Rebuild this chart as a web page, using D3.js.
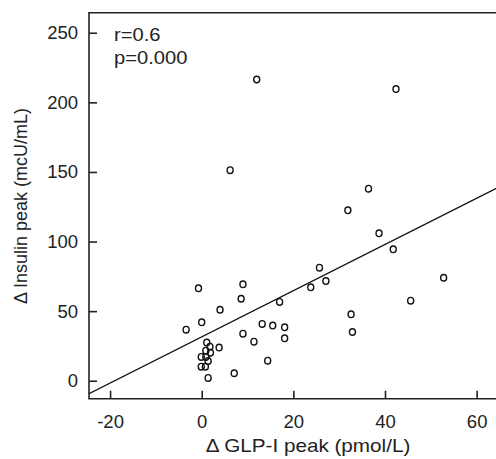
<!DOCTYPE html>
<html>
<head>
<meta charset="utf-8">
<script src="https://cdn.jsdelivr.net/npm/d3@7"></script>
<style>
  body { margin: 0; background: #fff; }
  text { font-family: "Liberation Sans", Arial, sans-serif; fill: #222; }
</style>
</head>
<body>
<svg></svg>
<script>
var width = 496,
    height = 459;

// Δ GLP-I peak (pmol/L)
var glpPeak = [12.0, 42.4, 6.2, 36.4, 31.9, 38.7, 41.8, 25.7, 27.1, 23.8,
    52.8, 45.6, 32.6, 32.9, -0.7, 9.0, 8.6, 4.0, 17.0, -3.4,
    0.0, 9.0, 13.2, 15.5, 18.1, 18.1, 11.4, 3.8, 14.4, 7.1,
    1.1, 1.8, 0.9, 1.9, -0.1, 0.9, 1.4, -0.1, 0.8, 1.4];
// Δ Insulin peak (mcU/mL)
var insulinPeak = [216.4, 209.5, 151.3, 138.0, 122.4, 105.9, 94.4, 81.2, 71.6, 67.1,
    74.0, 57.5, 47.7, 35.0, 66.4, 69.3, 58.9, 51.0, 56.6, 36.7,
    42.0, 33.8, 40.8, 39.6, 38.4, 30.5, 28.1, 23.8, 14.4, 5.4,
    27.4, 24.5, 21.6, 20.2, 17.1, 17.1, 14.2, 10.1, 10.1, 2.0];

var xTicks = [-20, 0, 20, 40, 60],
    yTicks = [0, 50, 100, 150, 200, 250];

// fitted line: intercept, slope
var fit = [31.5, 1.66];
var stats = ["r=0.6", "p=0.000"];

var frame = { left: 89, top: 12.7, right: 500, bottom: 398.7 };

var x = d3.scaleLinear()
    .domain([-24.6, 65.1])
    .range([frame.left, frame.right]);

var y = d3.scaleLinear()
    .domain([-12.9, 264.4])
    .range([frame.bottom, frame.top]);

var svg = d3.select("svg")
    .attr("width", width)
    .attr("height", height);

svg.append("defs").append("clipPath")
    .attr("id", "plot")
    .append("rect")
    .attr("x", frame.left)
    .attr("y", frame.top)
    .attr("width", frame.right - frame.left)
    .attr("height", frame.bottom - frame.top);

// axes, ticks inside the frame, plain hyphen for negatives
var xAxis = svg.append("g")
    .attr("transform", "translate(0," + frame.bottom + ")")
    .call(d3.axisBottom(x).tickValues(xTicks).tickFormat(d => String(d))
        .tickSizeInner(-8).tickSizeOuter(0).tickPadding(16));

var yAxis = svg.append("g")
    .attr("transform", "translate(" + frame.left + ",0)")
    .call(d3.axisLeft(y).tickValues(yTicks).tickFormat(d => String(d))
        .tickSizeInner(-8).tickSizeOuter(0).tickPadding(11));

[xAxis, yAxis].forEach(a => {
    a.select(".domain").remove();
    a.selectAll(".tick line").attr("stroke", "#222").attr("stroke-width", 1.6);
    a.selectAll(".tick text")
        .attr("font-size", 18.5)
        .attr("font-family", "Liberation Sans, Arial, sans-serif")
        .attr("fill", "#222");
});

// frame (left, top, bottom)
svg.append("path")
    .attr("d", "M" + frame.right + "," + frame.top + "H" + frame.left + "V" + frame.bottom + "H" + frame.right)
    .attr("fill", "none")
    .attr("stroke", "#222")
    .attr("stroke-width", 1.6);

// regression line
var line = d3.line()
    .x(d => x(d))
    .y(d => y(fit[0] + fit[1] * d));

svg.append("path")
    .datum(x.domain())
    .attr("clip-path", "url(#plot)")
    .attr("d", line)
    .attr("fill", "none")
    .attr("stroke", "#111")
    .attr("stroke-width", 1.4);

// points
svg.append("g")
    .selectAll("ellipse")
    .data(glpPeak.map((d, i) => [d, insulinPeak[i]]))
    .enter().append("ellipse")
    .attr("cx", d => x(d[0]))
    .attr("cy", d => y(d[1]))
    .attr("rx", 3)
    .attr("ry", 3.3)
    .attr("fill", "none")
    .attr("stroke", "#111")
    .attr("stroke-width", 1.4);

// stats (text in the original is slightly wide)
svg.append("g")
    .selectAll("text")
    .data(stats)
    .enter().append("text")
    .attr("transform", (d, i) => "translate(114," + (41 + i * 23) + ") scale(1.12,1)")
    .attr("font-size", 18)
    .text(d => d);

// axis titles
svg.append("text")
    .attr("transform", "translate(308,452) scale(1.15,1)")
    .attr("text-anchor", "middle")
    .attr("font-size", 18)
    .text("\u0394 GLP-I peak (pmol/L)");

svg.append("text")
    .attr("transform", "translate(27,206) rotate(-90)")
    .attr("text-anchor", "middle")
    .attr("font-size", 18)
    .text("\u0394 Insulin peak (mcU/mL)");
</script>
</body>
</html>
